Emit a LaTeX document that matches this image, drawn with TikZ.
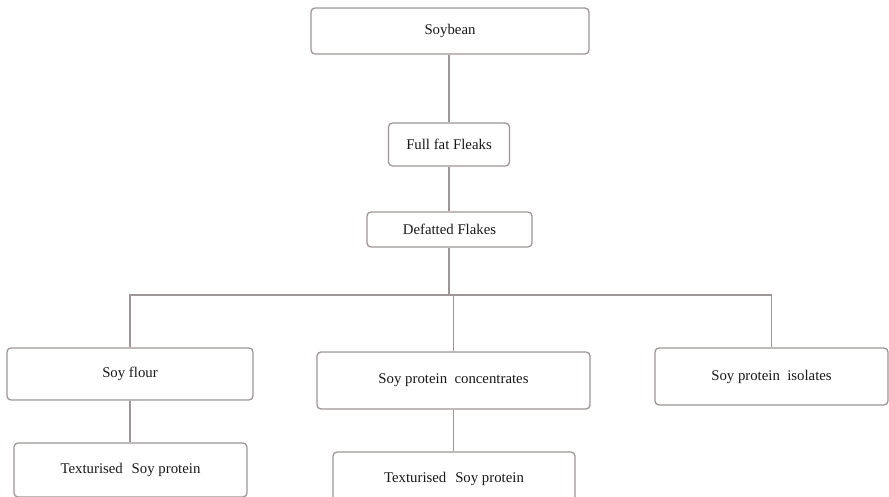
\documentclass[tikz,border=0pt]{standalone}
\usepackage{fontspec}
\setmainfont{Liberation Serif}
\begin{document}
\begin{tikzpicture}[x=1pt,y=-1pt,
  box/.style={draw=linegray, line width=1.3pt, rounded corners=4pt, fill=white,
    inner sep=0pt, font=\fontsize{14.8}{16}\selectfont, text=black!90},
  link/.style={draw=linegray, line width=1.5pt}]
\definecolor{linegray}{RGB}{158,150,150}
\useasboundingbox (0,0) rectangle (889,497);
\clip (0,0) rectangle (889,497);
% boxes, placed by centre with explicit sizes
\node[box, minimum width=278pt, minimum height=46pt] (soy)  at (450,31)    {Soybean};
\node[box, minimum width=121pt, minimum height=43pt] (full) at (449,144.5) {Full fat Fleaks};
\node[box, minimum width=165pt, minimum height=35pt] (def)  at (449.5,229.5) {Defatted Flakes};
\node[box, minimum width=246pt, minimum height=52pt] (flour) at (130,374)  {Soy flour};
\node[box, minimum width=273pt, minimum height=57pt] (conc) at (453.5,380.5) {Soy protein\hspace{0.5em}concentrates};
\node[box, minimum width=233pt, minimum height=57pt] (iso)  at (771.5,376.5) {Soy protein\hspace{0.5em}isolates};
\node[box, minimum width=233pt, minimum height=54pt] (tex1) at (130.5,470) {Texturised\hspace{0.6em}Soy protein};
\node[box, minimum width=242pt, minimum height=54pt] (tex2) at (454,479)   {Texturised\hspace{0.6em}Soy protein};
% junction of the three branches
\coordinate (hub) at (449,295);
% connectors, kept vertical below each upper box
\draw[link] (full.north |- soy.south) -- (full.north);
\draw[link] (full.south) -- (full.south |- def.north);
\draw[link] (full.south |- def.south) -- (hub);
\draw[link] (flour.north) |- (hub) -| (iso.north);
\draw[link] (conc.north) -- (conc.north |- hub);
\draw[link] (flour.south) -- (flour.south |- tex1.north);
\draw[link] (conc.south) -- (conc.south |- tex2.north);
\end{tikzpicture}
\end{document}
